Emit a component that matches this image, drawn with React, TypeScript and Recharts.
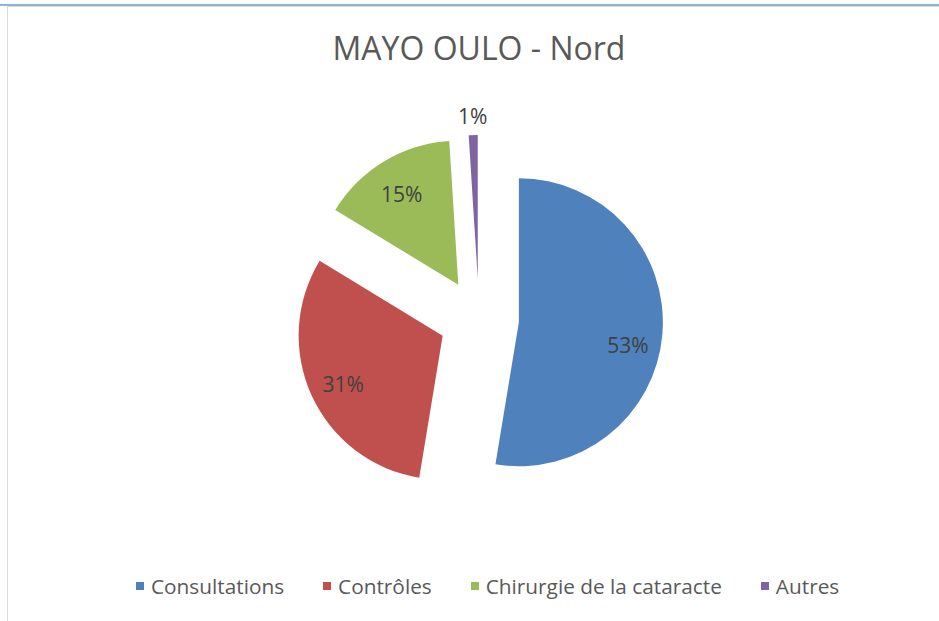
import { PieChart, Pie, Cell } from 'recharts';

const categories = ['Consultations', 'Contrôles', 'Chirurgie de la cataracte', 'Autres'];
const values = [52.6, 31.1, 15.3, 1.0];
const colors = ['#4F81BD', '#C0504D', '#9BBB59', '#8064A2'];

const data = categories.map((name, i) => ({ name, value: values[i] }));
const total = values.reduce((a, b) => a + b, 0);

const FONT = '"Open Sans", "Noto Sans", sans-serif';
const CX = 479;
const CY = 319;
const R = 144;
const EXPLODE = 40;
const RAD = Math.PI / 180;

// mid angle of slice i in recharts degrees (start at 12 o'clock, clockwise)
function midAngleOf(i: number) {
  const before = values.slice(0, i).reduce((a, b) => a + b, 0);
  return 90 - (360 * (before + values[i] / 2)) / total;
}

function makeLabel(target: number) {
  return (props: any) => {
    const { cx, cy, midAngle, outerRadius, percent, index } = props;
    if (index !== target) return null;
    const small = percent < 0.05;
    const r = outerRadius * (small ? 1.13 : 0.76);
    // excel "best fit" drops the big slice's label a bit below its bisector
    const drop = percent > 0.5 ? 14 : small ? 0 : 3;
    const x = cx + r * Math.cos(-midAngle * RAD);
    const y = cy + r * Math.sin(-midAngle * RAD) + drop;
    return (
      <text x={x} y={y} fill="#404040" fontSize={21} fontFamily={FONT} textAnchor="middle" dominantBaseline="central">
        {`${Math.round(percent * 100)}%`}
      </text>
    );
  };
}

export default function App() {
  return (
    <div style={{ position: 'absolute', left: 0, top: 0, width: 939, height: 621, background: '#fff', overflow: 'hidden' }}>
      <div style={{ position: 'absolute', left: 0, top: 4, width: 939, height: 2, background: '#8FB3D6' }} />
      <div style={{ position: 'absolute', left: 8, top: 6, width: 931, height: 1, background: '#D9D9D9' }} />
      <div style={{ position: 'absolute', left: 7, top: 6, width: 1, height: 615, background: '#D9D9D9' }} />

      <div
        style={{
          position: 'absolute',
          left: 0,
          top: 25,
          width: 958,
          textAlign: 'center',
          fontFamily: FONT,
          fontSize: 32,
          color: '#595959',
          lineHeight: '46px',
        }}
      >
        MAYO OULO - Nord
      </div>

      <PieChart width={939} height={621} margin={{ top: 0, right: 0, bottom: 0, left: 0 }} style={{ position: 'absolute', left: 0, top: 0 }}>
        {categories.map((_, i) => {
          const mid = midAngleOf(i);
          return (
            <Pie
              key={i}
              data={data}
              dataKey="value"
              nameKey="name"
              cx={CX + EXPLODE * Math.cos(mid * RAD)}
              cy={CY - EXPLODE * Math.sin(mid * RAD)}
              outerRadius={R}
              startAngle={90}
              endAngle={-270}
              stroke="none"
              label={makeLabel(i)}
              labelLine={false}
              isAnimationActive={false}
            >
              {data.map((d, j) => (
                <Cell key={d.name} fill={j === i ? colors[j] : 'none'} stroke="none" />
              ))}
            </Pie>
          );
        })}
      </PieChart>

      <div
        style={{
          position: 'absolute',
          left: 136,
          top: 572,
          display: 'flex',
          alignItems: 'center',
          fontFamily: FONT,
          fontSize: 20.8,
          color: '#595959',
          whiteSpace: 'nowrap',
        }}
      >
        {categories.map((c, i) => (
          <div key={c} style={{ display: 'flex', alignItems: 'center', marginRight: 39 }}>
            <span style={{ display: 'inline-block', width: 8, height: 8, background: colors[i], marginRight: 7 }} />
            <span>{c}</span>
          </div>
        ))}
      </div>
    </div>
  );
}
